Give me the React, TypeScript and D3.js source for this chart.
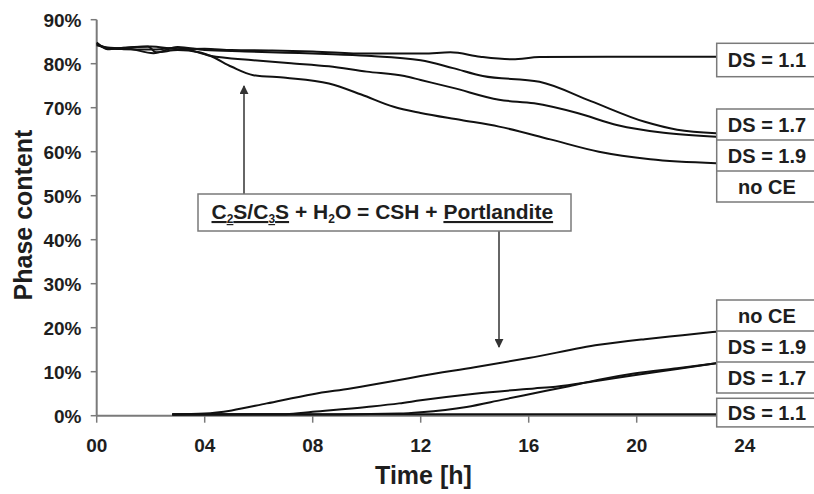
import React from "react";
import * as d3 from "d3";

// ---- data (time [h], phase content [%]) ----
const c3sNoCE: [number, number][] = [
  [0, 84.8], [0.4, 83.3], [1, 83.6], [1.9, 83.9], [2.2, 82.6], [3, 83.1], [3.8, 82.6], [4.2, 81.8],
  [5, 79.3], [5.8, 77.4], [7, 76.8], [8.6, 75.5], [9.8, 73], [11, 70.2], [12, 68.8], [13.5, 67.2],
  [14.9, 65.7], [16.8, 62.8], [18.6, 60], [20.5, 58.3], [22.94, 57.4],
];
const c3sDS19: [number, number][] = [
  [0, 84.6], [0.4, 83.5], [1, 83.3], [2, 83.2], [3, 83.6], [4.2, 81.8], [5.8, 80.8], [7.2, 80.1],
  [8.6, 79.4], [10, 78.2], [11.4, 77.2], [12, 76.3], [13.2, 74.5], [14.9, 71.8], [16.2, 71], [17.8, 68.8],
  [19.3, 66], [21, 64.3], [22.94, 63.4],
];
const c3sDS17: [number, number][] = [
  [0, 84.2], [0.5, 83.6], [1.2, 83.4], [2.1, 82.4], [3, 83.8], [4, 83.1], [5.5, 82.8], [7, 82.5],
  [8.5, 82.2], [10, 81.8], [12, 80.8], [13.2, 79], [14.3, 77.2], [16.4, 75.9], [18.3, 71.5],
  [20.3, 66.8], [21.5, 65], [22.94, 64.2],
];
const c3sDS11: [number, number][] = [
  [0, 84.4], [0.5, 83.4], [1.2, 83.7], [2, 83.9], [3, 83.3], [4, 83.4], [5, 83.1], [6.5, 83],
  [8, 82.8], [10, 82.3], [12.1, 82.3], [13.1, 82.6], [14.2, 81.6], [15.4, 81], [16.4, 81.5],
  [19, 81.6], [22.94, 81.6],
];

const chNoCE: [number, number][] = [
  [2.8, 0.3], [4, 0.5], [5, 1.2], [6.3, 2.8], [8, 4.9], [9.4, 6.2], [11.2, 8.1], [12, 9],
  [14, 11], [16, 13.1], [18.6, 16.1], [20.3, 17.4], [21.7, 18.3], [22.94, 19.1],
];
const chDS19: [number, number][] = [
  [2.8, 0.25], [7, 0.35], [8, 0.9], [10, 2], [11.2, 2.8], [12, 3.5], [14, 5], [16.2, 6.2],
  [17, 6.6], [18.5, 7.9], [19.9, 9.2], [21.5, 10.6], [22.94, 11.9],
];
const chDS17: [number, number][] = [
  [2.8, 0.25], [9, 0.3], [11.2, 0.5], [12, 0.8], [13.7, 2], [15, 3.6], [16.2, 5.1], [17.4, 6.6],
  [18.6, 8.2], [19.9, 9.6], [21.5, 10.8], [22.94, 11.9],
];
const chDS11: [number, number][] = [
  [2.8, 0.35], [22.94, 0.35],
];

const xTicks = [0, 4, 8, 12, 16, 20, 24];
const xTickLabels = ["00", "04", "08", "12", "16", "20", "24"];
const yTicks = [0, 10, 20, 30, 40, 50, 60, 70, 80, 90];

const upperLabels = ["DS = 1.7", "DS = 1.9", "no CE"];
const lowerLabels = ["no CE", "DS = 1.9", "DS = 1.7"];
const topSingleLabel = "DS = 1.1";
const bottomSingleLabel = "DS = 1.1";

const FONT = "'Liberation Sans', Arial, Helvetica, sans-serif";

export default function App() {
  const width = 814;
  const height = 494;
  const x = d3.scaleLinear().domain([0, 24]).range([96.7, 744.7]);
  const y = d3.scaleLinear().domain([0, 90]).range([415.7, 19.7]);

  const line = d3
    .line<[number, number]>()
    .x((d) => x(d[0]))
    .y((d) => y(d[1]))
    .curve(d3.curveMonotoneX);

  const series = [c3sNoCE, c3sDS19, c3sDS17, c3sDS11, chNoCE, chDS19, chDS17, chDS11];

  const axisColor = "#7a7a7a";
  const textColor = "#1e1e1e";
  const boxX = 716.7;
  const boxW = 110;
  const labelCx = 767;
  const rowH = 31;

  const annX0 = 198;
  const annX1 = 571;
  const annY0 = 194;
  const annY1 = 231;

  return (
    <div style={{ position: "absolute", left: 0, top: 0 }}>
      <svg width={width} height={height} style={{ display: "block", background: "#fff" }}>
        <defs>
          <marker id="arr" viewBox="0 0 10 10" refX="9" refY="5" markerWidth="6" markerHeight="6" orient="auto">
            <path d="M0,0 L10,5 L0,10 z" fill="#333" />
          </marker>
        </defs>

        {/* axes */}
        <line x1={x(0)} x2={x(0)} y1={y(90)} y2={y(0)} stroke={axisColor} strokeWidth={2} />
        <line x1={x(0)} x2={x(24)} y1={y(0)} y2={y(0)} stroke={axisColor} strokeWidth={2} />
        {yTicks.map((t) => (
          <g key={"y" + t}>
            <line x1={x(0) - 6} x2={x(0)} y1={y(t)} y2={y(t)} stroke={axisColor} strokeWidth={1.5} />
            <text
              x={81.5}
              y={y(t)}
              dy="0.36em"
              textAnchor="end"
              fontFamily={FONT}
              fontWeight="bold"
              fontSize={19}
              fill={textColor}
            >
              {t + "%"}
            </text>
          </g>
        ))}
        {xTicks.map((t, i) => (
          <g key={"x" + t}>
            <line x1={x(t)} x2={x(t)} y1={y(0)} y2={y(0) + 7} stroke={axisColor} strokeWidth={1.5} />
            <text
              x={x(t)}
              y={452}
              textAnchor="middle"
              fontFamily={FONT}
              fontWeight="bold"
              fontSize={19}
              fill={textColor}
            >
              {xTickLabels[i]}
            </text>
          </g>
        ))}

        {/* axis titles */}
        <text
          x={423.5}
          y={484}
          textAnchor="middle"
          fontFamily={FONT}
          fontWeight="bold"
          fontSize={25}
          fill={textColor}
        >
          Time [h]
        </text>
        <text
          transform={`translate(31.5,${215}) rotate(-90)`}
          textAnchor="middle"
          fontFamily={FONT}
          fontWeight="bold"
          fontSize={25}
          fill={textColor}
        >
          Phase content
        </text>

        {/* data lines */}
        {series.map((s, i) => (
          <path key={"s" + i} d={line(s) || ""} fill="none" stroke="#111" strokeWidth={2} strokeLinejoin="round" />
        ))}

        {/* right-hand labels: top */}
        <g fontFamily={FONT} fontWeight="bold" fontSize={20} fill={textColor}>
          <rect x={boxX} y={43.3} width={boxW} height={33.4} fill="#fff" stroke={axisColor} strokeWidth={1.5} />
          <text x={labelCx} y={43.3 + 33.4 / 2} dy="0.36em" textAnchor="middle">
            {topSingleLabel}
          </text>
          <rect x={boxX} y={109} width={boxW} height={rowH * 3} fill="#fff" stroke={axisColor} strokeWidth={1.5} />
          {upperLabels.map((l, i) => (
            <g key={"ul" + i}>
              {i > 0 && (
                <line x1={boxX} x2={boxX + boxW} y1={109 + rowH * i} y2={109 + rowH * i} stroke={axisColor} strokeWidth={1.5} />
              )}
              <text x={labelCx} y={109 + rowH * i + rowH / 2} dy="0.36em" textAnchor="middle">
                {l}
              </text>
            </g>
          ))}

          {/* bottom */}
          <rect x={boxX} y={300} width={boxW} height={rowH * 3} fill="#fff" stroke={axisColor} strokeWidth={1.5} />
          {lowerLabels.map((l, i) => (
            <g key={"ll" + i}>
              {i > 0 && (
                <line x1={boxX} x2={boxX + boxW} y1={300 + rowH * i} y2={300 + rowH * i} stroke={axisColor} strokeWidth={1.5} />
              )}
              <text x={labelCx} y={300 + rowH * i + rowH / 2} dy="0.36em" textAnchor="middle">
                {l}
              </text>
            </g>
          ))}
          <rect x={boxX} y={398.3} width={boxW} height={28.6} fill="#fff" stroke={axisColor} strokeWidth={1.5} />
          <text x={labelCx} y={398.3 + 28.6 / 2} dy="0.36em" textAnchor="middle">
            {bottomSingleLabel}
          </text>
        </g>

        {/* annotation */}
        <line x1={244} x2={244} y1={annY0} y2={86} stroke="#333" strokeWidth={1.5} markerEnd="url(#arr)" />
        <line x1={499} x2={499} y1={annY1} y2={347} stroke="#333" strokeWidth={1.5} markerEnd="url(#arr)" />
        <rect
          x={annX0}
          y={annY0}
          width={annX1 - annX0}
          height={annY1 - annY0}
          fill="#fff"
          stroke={axisColor}
          strokeWidth={1.5}
        />
        <text x={211.5} y={219} fontFamily={FONT} fontWeight="bold" fontSize={21} fill={textColor}>
          <tspan textDecoration="underline">
            C<tspan fontSize={12} dy={4}>2</tspan>
            <tspan dy={-4}>S/C</tspan>
            <tspan fontSize={12} dy={4}>3</tspan>
            <tspan dy={-4}>S</tspan>
          </tspan>
          <tspan> + H</tspan>
          <tspan fontSize={12} dy={4}>2</tspan>
          <tspan dy={-4}>O = CSH + </tspan>
          <tspan textDecoration="underline">Portlandite </tspan>
        </text>
      </svg>
    </div>
  );
}
